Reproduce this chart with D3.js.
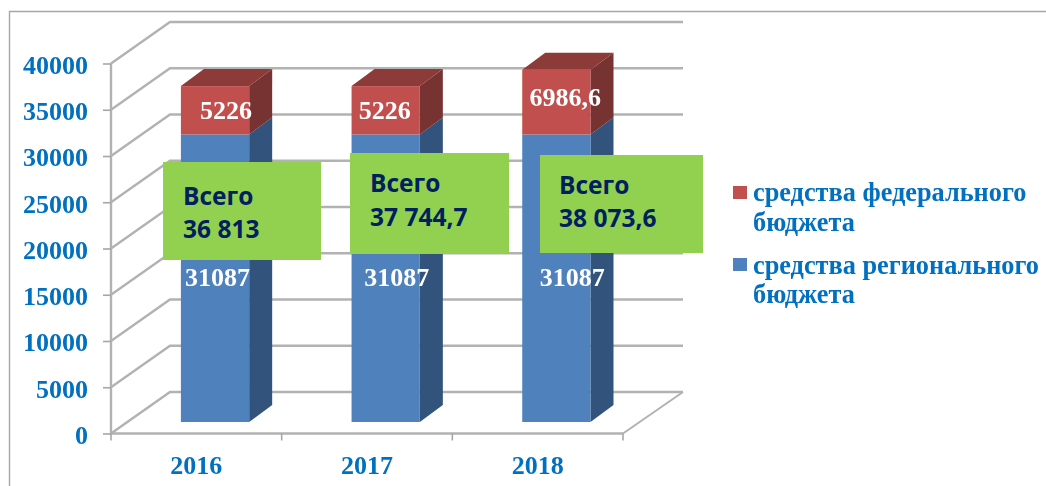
<!DOCTYPE html>
<html lang="ru">
<head>
<meta charset="utf-8">
<script src="https://cdn.jsdelivr.net/npm/d3@7"></script>
<style>
  html, body { margin: 0; padding: 0; background: #fff; overflow: hidden; }
  svg { display: block; }
  .serif { font-family: "Liberation Serif", serif; font-weight: bold; }
  .axis text { font-family: "Liberation Serif", serif; font-weight: bold; font-size: 26px; fill: #0070c0; }
  .bar-label { font-size: 26px; fill: #fff; text-anchor: middle; dominant-baseline: central; }
  .legend-text { font-size: 26.3px; fill: #0070c0; }
  .note-text { font-family: "Open Sans", sans-serif; font-weight: 700; font-size: 24.5px; fill: #002060; }
</style>
</head>
<body>
<div id="chart"></div>
<script>
// Data
const years = ["2016", "2017", "2018"];
const regional = [31087, 31087, 31087];
const federal = [5226, 5226, 6986.6];
const regionalLabels = ["31087", "31087", "31087"];
const federalLabels = ["5226", "5226", "6986,6"];
const yTicks = [0, 5000, 10000, 15000, 20000, 25000, 30000, 35000, 40000];
const noteTitle = "Всего";
const noteTotals = ["36 813", "37 744,7", "38 073,6"];
const legendNames = [
  ["средства федерального", "бюджета"],
  ["средства регионального", "бюджета"],
];

// Layout of the pseudo 3D box
const width = 1046;
const height = 486;
const plot = { left: 111, right: 623, top: 63.5, bottom: 433.5 };
const wall = { dx: 60, dy: -41.5 };
const barShift = { dx: 18.7, dy: -11.5 };
const barSide = { dx: 23, dy: -17 };

// The labels and green notes were placed by hand in the original
const regionalLabelShift = [2.5, 11, 16];
const federalLabelShift = [11, -1, 9];
const federalLabelY = [110, 110, 97];
const regionalLabelY = 277;
const noteBoxes = [
  { x: 163, y: 162, w: 158, h: 98, tx: 183, y1: 195, y2: 228 },
  { x: 350, y: 153, w: 159, h: 101, tx: 370, y1: 182, y2: 216 },
  { x: 540, y: 155, w: 163, h: 98, tx: 559, y1: 184, y2: 217 },
];

const colors = {
  frame: "#a6a6a6",
  grid: "#b2b2b2",
  regional: { front: "#4f81bd", side: "#31527b", top: "#31527b" },
  federal: { front: "#c0504d", side: "#773130", top: "#8c3a38" },
  note: "#92d050",
};

const svg = d3.select("#chart").append("svg").attr("width", width).attr("height", height);

const defs = svg.append("defs");
defs.append("filter").attr("id", "soft").append("feGaussianBlur").attr("stdDeviation", 0.55);
defs.append("filter").attr("id", "softer").append("feGaussianBlur").attr("stdDeviation", 0.35);

// Scales
const y = d3.scaleLinear().domain([0, 40000]).range([plot.bottom, plot.top]);
const x = d3.scaleBand().domain(years).range([plot.left, plot.right]).paddingInner(0.6).paddingOuter(0.3);
const xEdges = d3.scaleLinear().domain([0, years.length]).range([plot.left, plot.right]);

// Outer frame, only top and left edges show
svg.append("path")
  .attr("d", `M9.5,${height} V11.5 H${width}`)
  .attr("fill", "none")
  .attr("stroke", colors.frame)
  .attr("stroke-width", 1.4);

// Gridlines run along the side wall and then the back wall
const gridG = svg.append("g").attr("filter", "url(#soft)");
gridG.selectAll("path")
  .data(yTicks)
  .join("path")
  .attr("d", (d) => `M${plot.left},${y(d)} L${plot.left + wall.dx - 1},${y(d) + wall.dy} H${plot.right + wall.dx}`)
  .attr("fill", "none")
  .attr("stroke", colors.grid)
  .attr("stroke-width", 2.4);

// Right floor edge
gridG.append("path")
  .attr("d", `M${plot.right},${plot.bottom} L${plot.right + wall.dx},${plot.bottom + wall.dy}`)
  .attr("fill", "none")
  .attr("stroke", colors.grid)
  .attr("stroke-width", 2);

// Front floor edge and side wall edge
gridG.append("path")
  .attr("d", `M${plot.left},${plot.top} V${plot.bottom} H${plot.right}`)
  .attr("fill", "none")
  .attr("stroke", colors.grid)
  .attr("stroke-width", 2.4);

// Axes
const yAxis = d3.axisLeft(y).tickValues(yTicks).tickSize(8).tickPadding(15).tickFormat(d3.format("d"));
const yAxisG = svg.append("g")
  .attr("class", "axis y-axis")
  .attr("filter", "url(#softer)")
  .attr("transform", `translate(${plot.left},0)`)
  .call(yAxis);
yAxisG.select(".domain").remove();
yAxisG.selectAll("line").attr("stroke", "#a6a6a6").attr("stroke-width", 1.6);
yAxisG.selectAll("text").attr("y", 1.5);

const xLabels = d3.scaleBand().domain(years).range([plot.left, plot.right]);
const xAxis = d3.axisBottom(xLabels).tickSize(0).tickPadding(22);
const xAxisG = svg.append("g")
  .attr("class", "axis x-axis")
  .attr("filter", "url(#softer)")
  .attr("transform", `translate(0,${plot.bottom})`)
  .call(xAxis);
xAxisG.select(".domain").remove();

svg.append("g").selectAll("line")
  .data(d3.range(years.length + 1))
  .join("line")
  .attr("x1", (d) => xEdges(d))
  .attr("x2", (d) => xEdges(d))
  .attr("y1", plot.bottom)
  .attr("y2", plot.bottom + 7)
  .attr("stroke", "#a6a6a6")
  .attr("stroke-width", 1.6);

// Bars: each stack part is a front face, a side face and (on top only) a lid
const barsG = svg.append("g").attr("filter", "url(#softer)");

function drawPart(year, from, to, palette, withLid) {
  const x0 = x(year) + barShift.dx;
  const x1 = x0 + x.bandwidth();
  const y0 = y(from) + barShift.dy;
  const y1 = y(to) + barShift.dy;
  const g = barsG.append("g");

  g.append("path")
    .attr("d", `M${x1},${y0} L${x1 + barSide.dx},${y0 + barSide.dy} V${y1 + barSide.dy} L${x1},${y1} Z`)
    .attr("fill", palette.side);
  g.append("rect")
    .attr("x", x0)
    .attr("y", y1)
    .attr("width", x1 - x0)
    .attr("height", y0 - y1)
    .attr("fill", palette.front);
  if (withLid) {
    g.append("path")
      .attr("d", `M${x0},${y1} L${x0 + barSide.dx},${y1 + barSide.dy} H${x1 + barSide.dx} L${x1},${y1} Z`)
      .attr("fill", palette.top);
  }
}

years.forEach((year, i) => {
  drawPart(year, 0, regional[i], colors.regional, false);
  drawPart(year, regional[i], regional[i] + federal[i], colors.federal, true);
});

// Data labels
const labelsG = svg.append("g").attr("class", "serif").attr("filter", "url(#softer)");
labelsG.selectAll(".regional-label")
  .data(years)
  .join("text")
  .attr("class", "bar-label regional-label")
  .attr("x", (d, i) => x(d) + barShift.dx + x.bandwidth() / 2 + regionalLabelShift[i])
  .attr("y", regionalLabelY)
  .text((d, i) => regionalLabels[i]);
labelsG.selectAll(".federal-label")
  .data(years)
  .join("text")
  .attr("class", "bar-label federal-label")
  .attr("x", (d, i) => x(d) + barShift.dx + x.bandwidth() / 2 + federalLabelShift[i])
  .attr("y", (d, i) => federalLabelY[i])
  .text((d, i) => federalLabels[i]);

// Green notes on top of the bars
const notes = svg.append("g").selectAll("g").data(noteBoxes).join("g");
notes.append("rect")
  .attr("x", (d) => d.x)
  .attr("y", (d) => d.y)
  .attr("width", (d) => d.w)
  .attr("height", (d) => d.h)
  .attr("fill", colors.note);
notes.append("text")
  .attr("class", "note-text")
  .attr("x", (d) => d.tx)
  .attr("y", (d) => d.y1)
  .attr("dominant-baseline", "central")
  .text(noteTitle);
notes.append("text")
  .attr("class", "note-text")
  .attr("x", (d) => d.tx)
  .attr("y", (d) => d.y2)
  .attr("dominant-baseline", "central")
  .text((d, i) => noteTotals[i]);

// Legend
const legendRows = [
  { color: colors.federal.front, swatchY: 186, lines: [201, 231] },
  { color: colors.regional.front, swatchY: 258, lines: [274, 303] },
];
const legend = svg.append("g").attr("class", "serif").attr("filter", "url(#softer)").selectAll("g").data(legendRows).join("g");
legend.append("rect")
  .attr("x", 733)
  .attr("y", (d) => d.swatchY)
  .attr("width", 14)
  .attr("height", 13)
  .attr("fill", (d) => d.color);
legendNames.forEach((lines, i) => {
  d3.select(legend.nodes()[i]).selectAll("text")
    .data(lines)
    .join("text")
    .attr("class", "legend-text")
    .attr("x", 753)
    .attr("y", (d, j) => legendRows[i].lines[j])
    .text((d) => d);
});
</script>
</body>
</html>
